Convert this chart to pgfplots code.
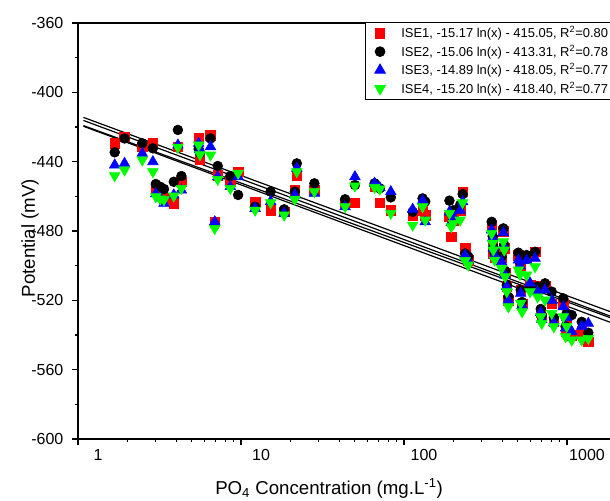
\documentclass[border=0pt]{standalone}
\usepackage{fontspec}
\setmainfont{Liberation Sans}
\usepackage{pgfplots}
\pgfplotsset{compat=1.18}
\definecolor{isered}{RGB}{255,0,0}
\definecolor{iseblue}{RGB}{0,0,255}
\definecolor{isegreen}{RGB}{0,255,0}

% x, ISE1, ISE2, ISE3, ISE4 (mV)
\pgfplotstableread{
x    a      b      c      d
1.68 -429.4 -434.6 -441.9 -448.1
1.93 -425.6 -426.6 -441.0 -444.8
2.48 -431.4 -429.4 -435.2 -439.0
2.88 -429.4 -432.3 -440.0 -445.8
3.00 -456.4 -452.9 -458.5 -460.2
3.20 -458.0 -454.5 -461.0 -461.5
3.37 -461.2 -455.8 -464.0 -462.0
3.87 -464.0 -451.6 -459.2 -459.8
4.10 -431.4 -421.7 -430.4 -431.7
4.31 -451.6 -448.3 -456.4 -455.4
5.50 -426.5 -432.7 -429.4 -430.4
5.60 -439.0 -435.0 -433.0 -436.0
6.50 -424.6 -426.6 -431.4 -436.2
6.90 -474.7 -476.6 -474.7 -478.5
7.20 -447.7 -442.5 -448.7 -450.2
8.60 -451.6 -448.3 -454.4 -455.4
9.60 -445.8 -459.2 -448.7 -446.7
12.2 -463.1 -466.0 -467.0 -468.0
15.2 -468.0 -457.3 -463.0 -463.7
18.4 -469.0 -467.5 -469.8 -470.8
21.4 -456.4 -457.3 -459.2 -461.7
22.0 -447.7 -441.0 -443.8 -445.8
28.2 -456.4 -452.5 -458.3 -457.3
43.5 -463.7 -461.7 -466.0 -466.0
50.0 -463.7 -453.5 -448.7 -454.0
66.0 -454.4 -452.5 -452.5 -454.8
71.0 -463.7 -455.4 -455.0 -455.8
83.0 -468.0 -460.6 -457.3 -469.8
113  -470.8 -468.9 -467.5 -476.6
130  -468.0 -461.2 -462.5 -466.0
135  -471.0 -463.0 -474.7 -473.7
190  -471.8 -462.5 -469.0 -469.8
195  -483.3 -470.0 -475.0 -477.5
201  -474.0 -468.0 -472.0 -475.6
221  -468.0 -465.0 -468.0 -473.7
229  -457.3 -458.7 -463.1 -463.7
237  -490.0 -493.0 -494.0 -497.0
248  -496.8 -494.8 -497.0 -499.6
345  -476.6 -474.7 -479.4 -481.4
350  -485.0 -483.0 -484.0 -487.1
353  -492.9 -489.0 -490.0 -491.0
360  -495.0 -493.0 -494.0 -496.8
397  -495.0 -495.0 -497.7 -501.6
407  -480.0 -478.5 -481.0 -486.2
412  -490.0 -488.0 -489.0 -491.0
417  -504.0 -503.0 -505.4 -506.4
427  -512.0 -511.2 -512.0 -515.0
437  -520.0 -518.0 -520.0 -523.7
503  -494.0 -492.5 -496.8 -502.5
515  -500.0 -498.0 -500.0 -505.0
520  -514.0 -514.0 -516.0 -521.7
530  -522.0 -521.0 -523.0 -526.6
565  -496.0 -493.9 -497.0 -505.4
593  -511.0 -513.0 -510.0 -515.0
637  -492.0 -492.0 -495.8 -500.6
660  -512.0 -512.1 -515.0 -518.0
690  -527.0 -525.0 -527.0 -529.5
700  -530.0 -529.0 -531.0 -533.3
733  -512.0 -510.2 -514.0 -519.8
806  -522.0 -515.0 -520.0 -527.5
830  -532.0 -530.0 -533.0 -535.2
949  -522.0 -518.9 -523.7 -529.5
980  -538.0 -535.0 -536.0 -541.0
995  -530.0 -527.5 -530.0 -535.0
1069 -540.0 -528.5 -538.0 -542.9
1231 -538.0 -532.4 -535.0 -542.9
1351 -543.9 -538.7 -533.3 -542.0
}\isedata

\begin{document}
\begin{tikzpicture}
\begin{axis}[
  scale only axis,
  width=399pt,
  height=312pt,
  xmode=log,
  xmin=1, xmax=1836,
  ymin=-600, ymax=-360,
  axis x line*=box,
  axis y line*=left,
  xtick pos=left,
  tick align=outside,
  major tick length=4.5pt,
  minor tick length=2.5pt,
  xtick={1,10,100,1000},
  xticklabels={1,10,100,1000},
  minor xtick={},
  ytick={-600,-560,-520,-480,-440,-400,-360},
  yticklabels={-600,-560,-520,-480,-440,-400,-360},
  minor y tick num=1,
  tick style={black, line width=0.8pt},
  axis line style={line width=0.8pt},
  tick label style={font=\fontsize{12}{14}\selectfont},
  xticklabel style={xshift=15pt},
  yticklabel style={xshift=-3pt},
  every axis x label/.style={at={(rel axis cs:0.472,0)}, anchor=north, yshift=-26pt, font=\fontsize{14}{16}\selectfont},
  every axis y label/.style={at={(rel axis cs:0,0.483)}, xshift=-36pt, rotate=90, anchor=center, font=\fontsize{14}{16}\selectfont},
  xlabel={PO\textsubscript{4} Concentration (mg.L\textsuperscript{-1})},
  ylabel={Potential (mV)},
  legend cell align=left,
  legend style={at={(rel axis cs:0.5395,1.002)}, anchor=north west, draw=black, line width=0.6pt,
    font=\fontsize{9.7}{11.5}\selectfont, row sep=2pt, column sep=10pt,
    inner xsep=7pt, inner ysep=2pt, nodes={inner ysep=1pt}},
  clip=true,
]
\addplot[only marks, mark=square*, mark size=3.6pt, color=isered] table[x=x, y=a] {\isedata};
\addlegendentry{ISE1, -15.17 ln(x) - 415.05, R\textsuperscript{2}=0.80}
\addplot[only marks, mark=*, mark size=3.7pt, color=black] table[x=x, y=b] {\isedata};
\addlegendentry{ISE2, -15.06 ln(x) - 413.31, R\textsuperscript{2}=0.78}
\addplot[only marks, mark=triangle*, mark size=4.6pt, color=iseblue] table[x=x, y=c] {\isedata};
\addlegendentry{ISE3, -14.89 ln(x) - 418.05, R\textsuperscript{2}=0.77}
\addplot[only marks, mark=triangle*, mark size=4.6pt, color=isegreen, mark options={rotate=180}] table[x=x, y=d] {\isedata};
\addlegendentry{ISE4, -15.20 ln(x) - 418.40, R\textsuperscript{2}=0.77}
% fitted lines (straight in log x)
\addplot[black, line width=0.9pt, forget plot] coordinates {(1.08,-416.22) (1836,-529.05)};
\addplot[black, line width=0.9pt, forget plot] coordinates {(1.08,-414.47) (1836,-526.49)};
\addplot[black, line width=0.9pt, forget plot] coordinates {(1.08,-419.20) (1836,-529.95)};
\addplot[black, line width=0.9pt, forget plot] coordinates {(1.08,-419.57) (1836,-532.63)};
\end{axis}
\pgfresetboundingbox
\path[use as bounding box] (-58.5pt,-45.75pt) rectangle (399pt,329.25pt);
\end{tikzpicture}
\end{document}
